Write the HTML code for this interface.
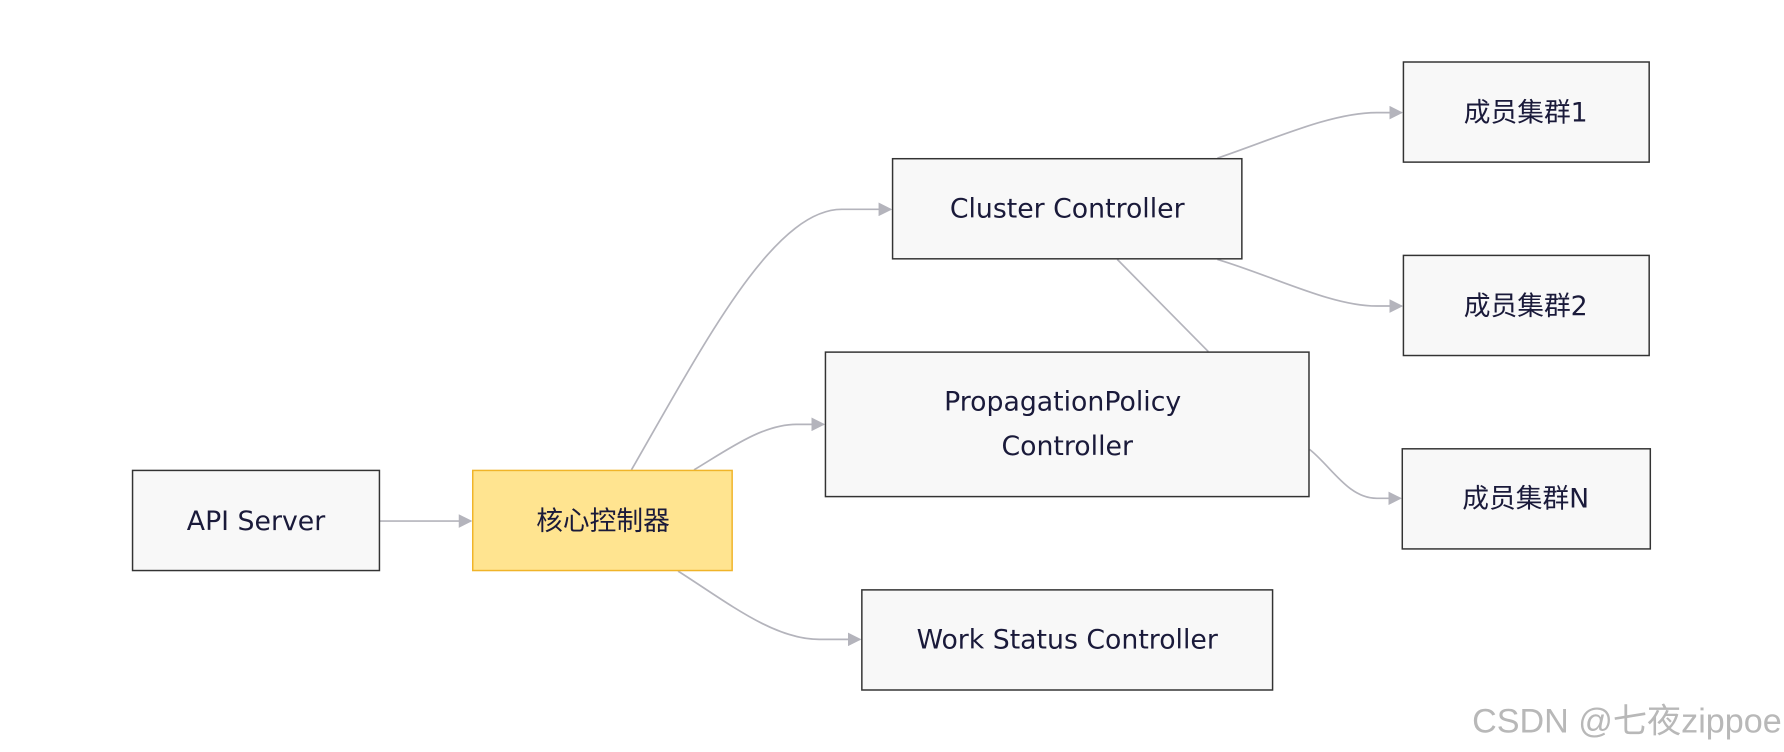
<!DOCTYPE html>
<html><head><meta charset="utf-8"><style>
html,body{margin:0;padding:0;background:#fff;width:1784px;height:752px;overflow:hidden}
svg{display:block}
text{font-family:"DejaVu Sans","Noto Sans CJK SC",sans-serif;fill:#1a1a3a;font-size:23.5px}
</style></head><body>
<svg width="1784" height="752" viewBox="0 0 1568 661" preserveAspectRatio="none">
<defs><marker id="a" viewBox="0 0 10 10" refX="9" refY="5" markerWidth="8" markerHeight="8" orient="auto"><path d="M0,0L10,5L0,10z" fill="#b4b4bc"/></marker></defs>
<g fill="none" stroke="#b4b4bc" stroke-width="1.5">
<path d="M334,458H414" marker-end="url(#a)"/>
<path d="M555,413C620,300 680,184 740,184H783" marker-end="url(#a)"/>
<path d="M610,413C640,395 670,373 700,373H724" marker-end="url(#a)"/>
<path d="M596,502C640,530 680,562 720,562H756" marker-end="url(#a)"/>
<path d="M1070,139C1120,122 1170,99 1210,99H1232" marker-end="url(#a)"/>
<path d="M1070,228C1120,243 1170,269 1210,269H1232" marker-end="url(#a)"/>
<path d="M982,228L1062,309"/>
<path d="M1151,395C1170,410 1185,438 1210,438H1231" marker-end="url(#a)"/>
</g>
<g stroke="#333" stroke-width="1.3" fill="#f8f8f8">
<rect x="116.5" y="413.5" width="217" height="88"/>
<rect x="415.5" y="413.5" width="228" height="88" fill="#ffe490" stroke="#f0b429"/>
<rect x="784.5" y="139.5" width="307" height="88"/>
<rect x="725.5" y="309.5" width="425" height="127"/>
<rect x="757.5" y="518.5" width="361" height="88"/>
<rect x="1233.5" y="54.5" width="216" height="88"/>
<rect x="1233.5" y="224.5" width="216" height="88"/>
<rect x="1232.5" y="394.5" width="218" height="88"/>
</g>
<g text-anchor="middle">
<text x="225" y="466">API Server</text>
<text x="530" y="466">核心控制器</text>
<text x="938" y="191">Cluster Controller</text>
<text x="934" y="361">PropagationPolicy</text>
<text x="938" y="400">Controller</text>
<text x="938" y="570">Work Status Controller</text>
<text x="1341" y="107">成员集群1</text>
<text x="1341" y="277">成员集群2</text>
<text x="1341" y="446">成员集群N</text>
</g>
<text x="1566" y="644" text-anchor="end" style="fill:#b8b8b8;font-size:30px;font-family:'Liberation Sans','Noto Sans CJK SC',sans-serif">CSDN @七夜zippoe</text>
</svg>
</body></html>
